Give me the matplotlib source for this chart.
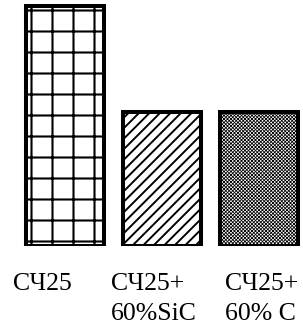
import matplotlib
matplotlib.use("Agg")
import matplotlib.pyplot as plt

plt.rcParams["font.family"] = ["Liberation Serif", "DejaVu Serif"]

# данные
labels = ["СЧ25", "СЧ25+\n60%SiC", "СЧ25+\n60% C"]
values = [100, 56, 56]
hatches = ["+", "////", "xxxxxxxxxxxx"]
hatch_lw = [1.2, 1.1, 0.45]

DPI = 126
fig = plt.figure(figsize=(303 / DPI, 326 / DPI), dpi=DPI)
ax = fig.add_axes([0, 80 / 326, 1, 246 / 326])

for i, (v, h, lw) in enumerate(zip(values, hatches, hatch_lw)):
    with plt.rc_context({"hatch.linewidth": lw, "hatch.color": "black"}):
        ax.bar(i, v, width=0.8, color="white", edgecolor="black",
               linewidth=2.3, hatch=h)

ax.set_xlim(-0.67, 2.45)
ax.set_ylim(0, 102.5)
ax.axis("off")

# подписи: каждая строка по базовой линии
label_x = [13, 111, 225]
baselines = [290, 320]
for x, lab in zip(label_x, labels):
    for j, line in enumerate(lab.split("\n")):
        fig.text(x / 303, 1 - baselines[j] / 326, line, ha="left",
                 va="baseline", fontsize=14.7)

fig.savefig("out.png", dpi=DPI)
